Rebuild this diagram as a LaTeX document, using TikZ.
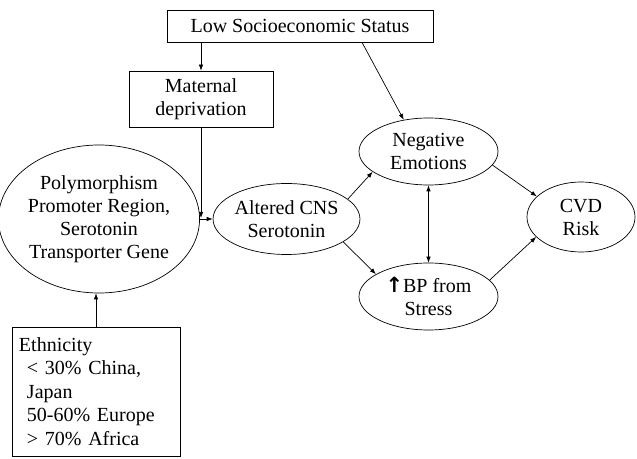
\documentclass[tikz,border=0pt]{standalone}
\usepackage{fontspec}
\setmainfont{Liberation Serif}
\usepackage{tikz}
\usetikzlibrary{shapes.geometric,arrows.meta}

\begin{document}
\begin{tikzpicture}[x=1pt,y=1pt,line width=0.7pt,
    every node/.style={font=\fontsize{20}{23}\selectfont},
    box/.style={draw,rectangle,inner sep=0pt,align=center},
    oval/.style={draw,ellipse,inner sep=0pt,align=center},
    arr/.style={-{Latex[length=6pt,width=4.5pt]}},
    darr/.style={{Latex[length=6pt,width=4.5pt]}-{Latex[length=6pt,width=4.5pt]}}]
            \useasboundingbox (0,0) rectangle (637,458);

            \node[box,minimum width=266,minimum height=32] (ses) at (300,432) {Low Socioeconomic Status};
            \node[box,minimum width=144,minimum height=56] (mat) at (201,359) {Maternal\\deprivation};
            \node[oval,minimum width=185,minimum height=148] (poly) at (99,239) {Polymorphism\\Promoter Region,\\Serotonin\\Transporter Gene};
            \node[oval,minimum width=137,minimum height=71] (cns) at (286.5,239) {Altered CNS\\Serotonin};
            \node[oval,minimum width=139,minimum height=67] (neg) at (428.5,306.5) {Negative\\Emotions};
            \node[oval,minimum width=139,minimum height=67] (bp) at (428.5,161.5) {{\fontspec{DejaVu Sans}\bfseries\fontsize{21}{20}\selectfont ↑}BP from\\Stress};
            \node[oval,minimum width=108,minimum height=70] (cvd) at (581,241) {CVD\\Risk};
            \node[box,minimum height=129,text width=154,inner xsep=7,align=left,
                  font=\fontsize{20}{23.5}\selectfont] (eth) at (96,66.5)
                  {Ethnicity\\\hspace*{8pt}< 30\% China,\\\hspace*{8pt}Japan\\\hspace*{8pt}50-60\% Europe\\\hspace*{8pt}> 70\% Africa};

            \draw [arr] (mat.north |- ses.south) -- (mat.north);
            \draw [arr] (mat.south) -- ([yshift=1pt]mat.south |- poly.east);
            \draw [arr] (poly) -- (cns);
            \draw [arr] (eth.north) -- (eth.north |- poly.south);
            \draw [arr] ([xshift=62pt]ses.south) -- (neg.128);
            \draw [arr] (cns.18) -- (neg.200);
            \draw [arr] (cns.-22) -- (bp.157);
            \draw [darr] (neg) -- (bp);
            \draw [arr] (neg.-12) -- (cvd.155);
            \draw [arr] (bp.15) -- (cvd.204);
        \end{tikzpicture}
\end{document}
